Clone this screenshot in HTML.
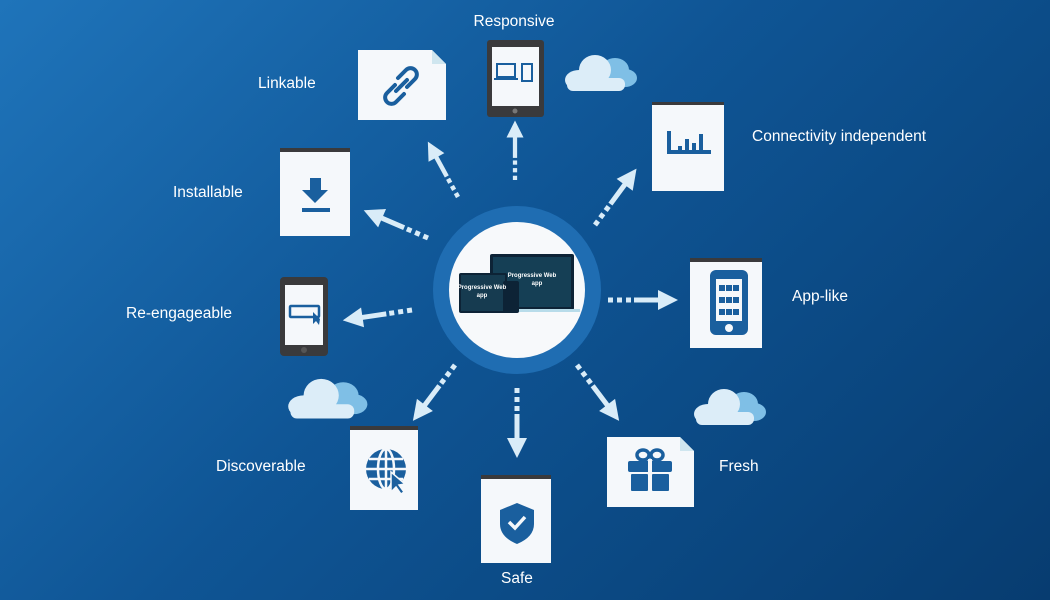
<!DOCTYPE html>
<html><head><meta charset="utf-8"><style>
html,body{margin:0;padding:0;width:1050px;height:600px;overflow:hidden}
body{background:linear-gradient(135deg,#1f74ba 0%,#0f5595 45%,#073c70 100%);font-family:"Liberation Sans",sans-serif}
svg{display:block}
</style></head><body>
<svg width="1050" height="600" viewBox="0 0 1050 600" xmlns="http://www.w3.org/2000/svg">
<defs>
<g id="arr" fill="#d9ecf8">
<rect x="0" y="-2.5" width="5" height="5"/><rect x="9" y="-2.5" width="5" height="5"/><rect x="18" y="-2.5" width="5" height="5"/>
<rect x="26" y="-2.5" width="26" height="5"/>
<polygon points="50,-10 70,0 50,10"/>
</g>
<g id="cloud">
<ellipse cx="52" cy="14" rx="14" ry="12" fill="#7fbfe6"/>
<ellipse cx="62" cy="22" rx="12" ry="9" fill="#7fbfe6"/>
<ellipse cx="32" cy="14" rx="16" ry="15" fill="#dcedf8"/>
<ellipse cx="16" cy="24" rx="14" ry="10" fill="#dcedf8"/>
<rect x="4" y="22" width="58" height="13" rx="6" fill="#dcedf8"/>
</g>
</defs>
<g font-size="15.5" fill="#fff">
<text x="514" y="26" text-anchor="middle">Responsive</text>
<text x="258" y="88">Linkable</text>
<text x="752" y="141">Connectivity independent</text>
<text x="173" y="197">Installable</text>
<text x="792" y="301">App-like</text>
<text x="126" y="318">Re-engageable</text>
<text x="216" y="471">Discoverable</text>
<text x="719" y="471">Fresh</text>
<text x="517" y="583" text-anchor="middle">Safe</text>
</g>
<use href="#arr" transform="translate(515,180) rotate(-90) scale(0.85)"/>
<use href="#arr" transform="translate(458,197) rotate(-118.6) scale(0.9)"/>
<use href="#arr" transform="translate(428,238) rotate(-156.7)"/>
<use href="#arr" transform="translate(412,310) rotate(171.5)"/>
<use href="#arr" transform="translate(455,365) rotate(127)"/>
<use href="#arr" transform="translate(517,388) rotate(90)"/>
<use href="#arr" transform="translate(577,365) rotate(53)"/>
<use href="#arr" transform="translate(608,300)"/>
<use href="#arr" transform="translate(595,225) rotate(-53.6)"/>
<circle cx="517" cy="290" r="84" fill="#1f6db2"/>
<circle cx="517" cy="290" r="68" fill="#f7f9fb"/>
<rect x="490" y="254" width="84" height="56" rx="2" fill="#0d2336"/>
<rect x="493" y="257" width="78" height="50" fill="#153f55"/>
<rect x="486" y="309" width="94" height="3" fill="#b8dcea"/>
<rect x="459" y="273" width="48" height="40" rx="2" fill="#0d2336"/>
<rect x="461" y="275" width="44" height="36" fill="#163b50"/>
<rect x="503" y="281" width="16" height="32" rx="2" fill="#0d2336"/>
<text x="532" y="277" font-size="6" fill="#fff" text-anchor="middle" font-weight="bold">Progressive Web</text>
<text x="537" y="285" font-size="6" fill="#fff" text-anchor="middle" font-weight="bold">app</text>
<text x="482" y="289" font-size="6" fill="#fff" text-anchor="middle" font-weight="bold">Progressive Web</text>
<text x="482" y="297" font-size="6" fill="#fff" text-anchor="middle" font-weight="bold">app</text>
<use href="#cloud" transform="translate(563,56)"/>
<use href="#cloud" transform="translate(286,380) scale(1.1)"/>
<use href="#cloud" transform="translate(692,390)"/>
<polygon points="358,50 432,50 446,64 446,120 358,120" fill="#f5f8fb"/>
<polygon points="432,50 446,64 432,64" fill="#cfe6ef"/>
<g fill="none" stroke="#1a5f9e" stroke-width="4" stroke-linecap="round">
<path d="M398,78 l8,-8 a6,6 0 0 1 9,9 l-8,8"/>
<path d="M404,94 l-8,8 a6,6 0 0 1 -9,-9 l8,-8"/>
<line x1="396" y1="91" x2="407" y2="80"/>
</g>
<rect x="487" y="40" width="57" height="77" rx="3" fill="#3a3a3c"/>
<rect x="492" y="47" width="47" height="59" fill="#f5f8fb"/>
<circle cx="515" cy="111" r="2.5" fill="#777"/>
<rect x="497" y="64" width="18" height="13" fill="none" stroke="#1a5f9e" stroke-width="2"/>
<rect x="494" y="78" width="24" height="2" fill="#1a5f9e"/>
<rect x="522" y="64" width="10" height="17" fill="none" stroke="#1a5f9e" stroke-width="2"/>
<g>
<rect x="652" y="102" width="72" height="89" fill="#f5f8fb"/><rect x="652" y="102" width="72" height="3" fill="#3a3a3c"/>
<path d="M669,131 v21 h42" fill="none" stroke="#1a5f9e" stroke-width="4"/>
<rect x="678" y="146" width="4" height="6" fill="#1a5f9e"/><rect x="685" y="139" width="4" height="13" fill="#1a5f9e"/>
<rect x="692" y="143" width="4" height="9" fill="#1a5f9e"/><rect x="699" y="134" width="4" height="18" fill="#1a5f9e"/>
</g>
<g>
<rect x="280" y="148" width="70" height="88" fill="#f5f8fb"/><rect x="280" y="148" width="70" height="4" fill="#3a3a3c"/>
<polygon points="310,178 321,178 321,190 328,190 315,203 302,190 310,190" fill="#1a5f9e"/>
<rect x="302" y="208" width="28" height="4" fill="#1a5f9e"/>
</g>
<g>
<rect x="690" y="258" width="72" height="90" fill="#f5f8fb"/><rect x="690" y="258" width="72" height="4" fill="#3a3a3c"/>
<rect x="710" y="270" width="38" height="65" rx="6" fill="#1a5f9e"/>
<rect x="716" y="279" width="26" height="42" fill="#f5f8fb"/>
<g fill="#1a5f9e"><rect x="719" y="285" width="6" height="6"/><rect x="726" y="285" width="6" height="6"/><rect x="733" y="285" width="6" height="6"/>
<rect x="719" y="297" width="6" height="6"/><rect x="726" y="297" width="6" height="6"/><rect x="733" y="297" width="6" height="6"/>
<rect x="719" y="309" width="6" height="6"/><rect x="726" y="309" width="6" height="6"/><rect x="733" y="309" width="6" height="6"/></g>
<circle cx="729" cy="328" r="4" fill="#f5f8fb"/>
</g>
<rect x="280" y="277" width="48" height="79" rx="4" fill="#3a3a3c"/>
<rect x="285" y="285" width="38" height="60" fill="#f5f8fb"/>
<circle cx="304" cy="350" r="3" fill="#555"/>
<rect x="290" y="306" width="29" height="11" rx="1" fill="none" stroke="#1a5f9e" stroke-width="2.5"/>
<polygon points="313,312 313,324 316,321 319,325 320,319" fill="#1a5f9e"/>
<g>
<rect x="350" y="426" width="68" height="84" fill="#f5f8fb"/><rect x="350" y="426" width="68" height="4" fill="#3a3a3c"/>
<circle cx="386" cy="469" r="20" fill="#1a5f9e"/>
<g stroke="#f5f8fb" stroke-width="2.5" fill="none"><ellipse cx="386" cy="469" rx="8" ry="20"/><line x1="366" y1="469" x2="406" y2="469"/><line x1="386" y1="449" x2="386" y2="489"/><line x1="369" y1="459" x2="403" y2="459"/><line x1="369" y1="479" x2="403" y2="479"/></g>
<polygon points="391,472 391,492 396,487 401,494 404,492 399,485 405,484" fill="#1a5f9e" stroke="#f5f8fb" stroke-width="1.5"/>
</g>
<g>
<rect x="481" y="475" width="70" height="88" fill="#f5f8fb"/><rect x="481" y="475" width="70" height="4" fill="#3a3a3c"/>
<path d="M517,503 l17,7 v14 q0,13 -17,20 q-17,-7 -17,-20 v-14 z" fill="#1a5f9e"/>
<path d="M509,522 l6,6 l10,-11" stroke="#f5f8fb" stroke-width="3.5" fill="none"/>
</g>
<polygon points="607,437 680,437 694,451 694,507 607,507" fill="#f5f8fb"/>
<polygon points="680,437 694,451 680,451" fill="#cfe6ef"/>
<g fill="#1a5f9e">
<rect x="628" y="461" width="44" height="11" rx="2"/>
<rect x="631" y="474" width="17" height="17" rx="1"/><rect x="652" y="474" width="17" height="17" rx="1"/>
</g>
<g fill="none" stroke="#1a5f9e" stroke-width="3.5"><ellipse cx="643" cy="455" rx="6" ry="5"/><ellipse cx="657" cy="455" rx="6" ry="5"/></g>
<rect x="648" y="459" width="4" height="33" fill="#f5f8fb"/>
</svg>
</body></html>
